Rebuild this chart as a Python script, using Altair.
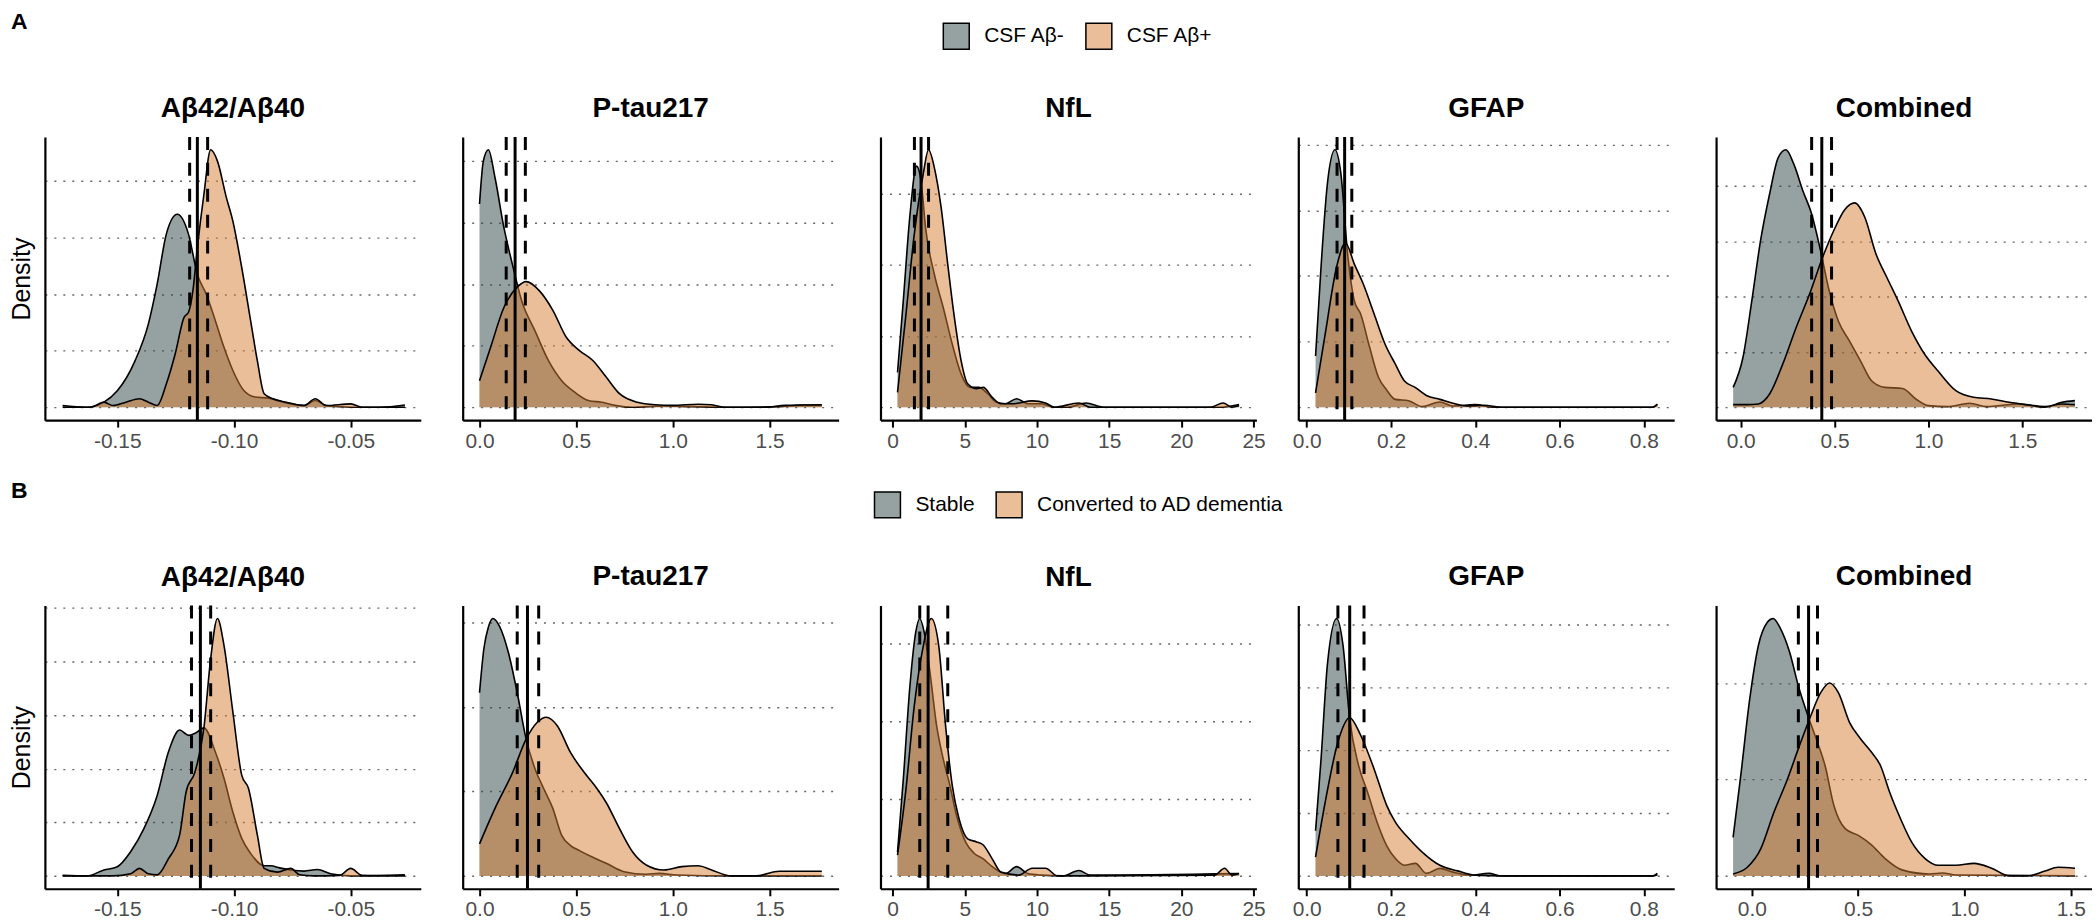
import altair as alt
import pandas as pd

FONT = "Liberation Sans"
GRAY = "#2D4343"
ORANGE = "#D57D31"
GRAY_KEY = "#96A1A1"
ORANGE_KEY = "#EABE98"

TITLES = ["Aβ42/Aβ40", "P-tau217", "NfL", "GFAP", "Combined"]
LEGEND_A = ["CSF Aβ-", "CSF Aβ+"]
LEGEND_B = ["Stable", "Converted to AD dementia"]
ROW_LABELS = ["A", "B"]

X_DOMAINS_A = [[-0.181, -0.020], [-0.087, 1.857], [-0.84, 25.2], [-0.02, 0.872], [-0.131, 1.871]]
X_DOMAINS_B = [[-0.181, -0.020], [-0.087, 1.857], [-0.84, 25.2], [-0.02, 0.872], [-0.168, 1.60]]
X_TICKS = [[-0.15, -0.10, -0.05], [0, 0.5, 1.0, 1.5], [0, 5, 10, 15, 20, 25],
           [0, 0.2, 0.4, 0.6, 0.8], [0, 0.5, 1.0, 1.5]]
X_FORMATS = [".2f", ".1f", "d", ".1f", ".1f"]
Y_BREAKS_A = [[0, 10, 20, 30, 40], [0, 1, 2, 3, 4], [0, 0.1, 0.2, 0.3], [0, 5, 10, 15, 20], [0, 0.5, 1, 1.5, 2]]
Y_BREAKS_B = [[0, 10, 20, 30, 40, 50], [0, 1, 2, 3], [0, 0.1, 0.2, 0.3], [0, 5, 10, 15, 20], [0, 1, 2]]

# vertical lines: (lower CI, cut-off, upper CI)
LINES_A = [(-0.119, -0.1157, -0.1113), (0.138, 0.184, 0.237), (1.51, 1.97, 2.49),
           (0.072, 0.090, 0.107), (0.378, 0.432, 0.484)]
LINES_B = [(-0.1182, -0.1144, -0.110), (0.195, 0.248, 0.306), (1.88, 2.46, 3.82),
           (0.074, 0.102, 0.136), (0.219, 0.267, 0.309)]

# ---------------- Row A density curves (x, density) ----------------
A_AB_NEG = [(-0.1734, 0.3), (-0.1633, 0.0), (-0.1557, 0.9), (-0.150, 2.9), (-0.1424, 8.2),
            (-0.1367, 14.7), (-0.1329, 21.8), (-0.129, 30.6), (-0.1243, 34.1), (-0.1195, 30.6),
            (-0.1157, 23.5), (-0.1119, 20.0), (-0.108, 15.3), (-0.1043, 10.6), (-0.1005, 6.5),
            (-0.0957, 2.9), (-0.091, 1.8), (-0.0852, 1.6), (-0.0814, 1.2), (-0.0757, 0.6),
            (-0.070, 0.3), (-0.0652, 1.2), (-0.0605, 0.3), (-0.0548, 0.1), (-0.050, 0.0),
            (-0.0376, 0.0), (-0.0268, 0.4)]
A_AB_POS = [(-0.1734, 0.0), (-0.1614, 0.0), (-0.1557, 0.9), (-0.1519, 0.3), (-0.1462, 0.9),
            (-0.1405, 1.5), (-0.1367, 0.9), (-0.1329, 0.3), (-0.129, 4.1), (-0.1252, 9.4),
            (-0.1214, 15.9), (-0.1195, 16.8), (-0.1176, 20.6), (-0.1157, 28.2), (-0.1129, 37.6),
            (-0.110, 45.5), (-0.1071, 43.5), (-0.1033, 37.1), (-0.1005, 32.9), (-0.0967, 24.7),
            (-0.0929, 15.3), (-0.090, 8.2), (-0.0871, 2.4), (-0.0833, 1.5), (-0.0776, 0.9),
            (-0.070, 0.3), (-0.0652, 1.5), (-0.0605, 0.3), (-0.050, 0.6), (-0.0452, 0.0),
            (-0.0268, 0.0)]
A_PT_NEG = [(0.0, 3.3), (0.02, 4.0), (0.046, 4.18), (0.08, 3.73), (0.126, 2.92), (0.17, 2.32),
            (0.218, 1.73), (0.287, 1.24), (0.356, 0.76), (0.425, 0.43), (0.494, 0.24),
            (0.563, 0.11), (0.632, 0.08), (0.70, 0.03), (0.79, 0.0), (0.95, 0.02), (1.1, 0.01),
            (1.3, 0.0), (1.55, 0.01), (1.65, 0.03), (1.77, 0.03)]
A_PT_POS = [(0.0, 0.43), (0.057, 0.97), (0.126, 1.62), (0.195, 1.95), (0.241, 2.04), (0.31, 1.89),
            (0.38, 1.57), (0.448, 1.14), (0.517, 0.92), (0.586, 0.76), (0.655, 0.49),
            (0.724, 0.22), (0.816, 0.08), (0.908, 0.04), (1.0, 0.03), (1.13, 0.05), (1.20, 0.04),
            (1.27, 0.0), (1.48, 0.0), (1.58, 0.03), (1.77, 0.04)]
A_NF_NEG = [(0.34, 0.049), (0.74, 0.15), (1.2, 0.27), (1.66, 0.339), (1.97, 0.318), (2.28, 0.253),
            (2.89, 0.187), (3.51, 0.14), (4.13, 0.089), (4.74, 0.047), (5.36, 0.028),
            (5.97, 0.028), (6.59, 0.019), (7.2, 0.007), (7.82, 0.005), (8.59, 0.012),
            (9.36, 0.005), (10.3, 0.005), (11.2, 0.0), (12.1, 0.0), (13.4, 0.006), (14.6, 0.0),
            (22.6, 0.0), (24.0, 0.004)]
A_NF_POS = [(0.34, 0.021), (0.9, 0.126), (1.5, 0.243), (2.12, 0.328), (2.49, 0.362), (2.89, 0.337),
            (3.36, 0.281), (3.82, 0.201), (4.28, 0.126), (4.74, 0.066), (5.2, 0.033),
            (5.82, 0.026), (6.28, 0.028), (6.9, 0.014), (7.5, 0.005), (8.4, 0.005),
            (9.67, 0.009), (10.6, 0.006), (11.2, 0.0), (12.9, 0.006), (13.7, 0.0), (22.0, 0.0),
            (22.9, 0.006), (23.5, 0.0), (24.0, 0.002)]
A_GF_NEG = [(0.021, 3.9), (0.034, 10.7), (0.049, 17.0), (0.067, 19.6), (0.081, 17.8),
            (0.097, 11.7), (0.113, 8.1), (0.128, 7.1), (0.149, 4.6), (0.17, 2.3), (0.19, 1.3),
            (0.21, 0.6), (0.242, 0.5), (0.274, 0.05), (0.316, 0.4), (0.347, 0.1), (0.40, 0.2),
            (0.442, 0.0), (0.821, 0.0), (0.832, 0.2)]
A_GF_POS = [(0.021, 1.1), (0.044, 5.6), (0.071, 10.7), (0.092, 12.5), (0.113, 10.9),
            (0.134, 9.4), (0.16, 7.1), (0.186, 4.8), (0.21, 3.3), (0.232, 2.0), (0.258, 1.5),
            (0.284, 0.9), (0.316, 0.6), (0.347, 0.3), (0.379, 0.1), (0.421, 0.15), (0.463, 0.0),
            (0.821, 0.0), (0.832, 0.25)]
A_CO_NEG = [(-0.04, 0.18), (0.012, 0.45), (0.059, 0.96), (0.106, 1.51), (0.154, 1.93),
            (0.20, 2.26), (0.241, 2.33), (0.283, 2.2), (0.331, 1.96), (0.378, 1.75),
            (0.425, 1.42), (0.472, 1.05), (0.52, 0.78), (0.579, 0.6), (0.638, 0.42),
            (0.697, 0.24), (0.768, 0.18), (0.862, 0.17), (0.933, 0.075), (1.0, 0.015),
            (1.1, 0.006), (1.22, 0.036), (1.31, 0.006), (1.48, 0.03), (1.62, 0.0), (1.71, 0.045),
            (1.78, 0.06)]
A_CO_POS = [(-0.04, 0.024), (0.035, 0.024), (0.094, 0.03), (0.154, 0.12), (0.224, 0.39),
            (0.295, 0.72), (0.366, 1.02), (0.437, 1.36), (0.496, 1.6), (0.555, 1.79),
            (0.607, 1.85), (0.661, 1.72), (0.72, 1.39), (0.78, 1.17), (0.839, 0.96),
            (0.91, 0.69), (0.98, 0.48), (1.05, 0.33), (1.146, 0.15), (1.24, 0.09),
            (1.335, 0.075), (1.43, 0.045), (1.52, 0.024), (1.62, 0.006), (1.71, 0.03),
            (1.78, 0.024)]

# ---------------- Row B density curves (x, density) ----------------
B_AB_NEG = [(-0.1734, 0.1), (-0.163, 0.0), (-0.1557, 1.1), (-0.150, 1.7), (-0.1443, 4.5),
            (-0.1386, 8.8), (-0.1329, 15.0), (-0.1281, 23.1), (-0.1233, 27.2), (-0.1195, 26.2),
            (-0.1167, 26.6), (-0.1129, 27.6), (-0.108, 23.1), (-0.1043, 18.2), (-0.1005, 11.9),
            (-0.0967, 7.0), (-0.0929, 4.2), (-0.0871, 1.9), (-0.0843, 1.9), (-0.0805, 1.5),
            (-0.0757, 1.1), (-0.070, 0.9), (-0.0643, 1.2), (-0.0586, 0.4), (-0.050, 0.0),
            (-0.0268, 0.2)]
B_AB_POS = [(-0.1734, 0.0), (-0.1519, 0.0), (-0.1443, 0.4), (-0.1405, 1.4), (-0.1367, 0.4),
            (-0.1329, 0.2), (-0.1281, 3.2), (-0.1233, 7.6), (-0.1205, 15.7), (-0.1167, 19.4),
            (-0.1129, 27.6), (-0.110, 40.5), (-0.1071, 48.0), (-0.1043, 43.0), (-0.1005, 30.6),
            (-0.0967, 18.8), (-0.0938, 16.3), (-0.090, 7.6), (-0.0871, 1.4), (-0.0814, 0.7),
            (-0.0757, 1.4), (-0.0719, 0.2), (-0.0662, 0.0), (-0.0548, 0.1), (-0.050, 1.4),
            (-0.0452, 0.1), (-0.0268, 0.0)]
B_PT_NEG = [(0.0, 2.17), (0.023, 2.7), (0.046, 2.95), (0.069, 3.05), (0.103, 2.96), (0.149, 2.65),
            (0.195, 2.17), (0.241, 1.62), (0.287, 1.27), (0.333, 1.03), (0.379, 0.8),
            (0.425, 0.48), (0.471, 0.36), (0.517, 0.3), (0.586, 0.22), (0.655, 0.15),
            (0.747, 0.05), (0.862, 0.02), (0.93, 0.03), (1.02, 0.01), (1.3, 0.0), (1.77, 0.0)]
B_PT_POS = [(0.0, 0.38), (0.08, 0.8), (0.172, 1.23), (0.241, 1.62), (0.299, 1.82), (0.345, 1.88),
            (0.402, 1.78), (0.471, 1.46), (0.54, 1.23), (0.609, 1.03), (0.655, 0.87),
            (0.724, 0.56), (0.793, 0.28), (0.862, 0.13), (0.954, 0.07), (1.046, 0.11),
            (1.13, 0.12), (1.20, 0.07), (1.30, 0.0), (1.43, 0.0), (1.55, 0.055), (1.77, 0.055)]
B_NF_NEG = [(0.34, 0.031), (0.74, 0.125), (1.2, 0.246), (1.6, 0.315), (1.88, 0.333), (2.19, 0.315),
            (2.59, 0.263), (3.05, 0.194), (3.51, 0.151), (3.97, 0.117), (4.43, 0.078),
            (5.05, 0.044), (5.66, 0.029), (6.28, 0.022), (6.9, 0.012), (7.82, 0.003),
            (8.59, 0.012), (9.36, 0.003), (10.3, 0.001), (11.8, 0.0), (12.9, 0.007),
            (13.7, 0.001), (24.0, 0.003)]
B_NF_POS = [(0.34, 0.027), (0.9, 0.108), (1.5, 0.22), (2.12, 0.297), (2.68, 0.333), (3.2, 0.297),
            (3.67, 0.194), (4.13, 0.117), (4.6, 0.074), (5.2, 0.048), (5.82, 0.044),
            (6.28, 0.04), (6.9, 0.022), (7.5, 0.005), (8.74, 0.001), (9.67, 0.01), (10.6, 0.01),
            (11.4, 0.0), (22.3, 0.001), (23.0, 0.01), (23.5, 0.001), (24.0, 0.003)]
B_GF_NEG = [(0.021, 3.6), (0.034, 9.3), (0.049, 16.8), (0.071, 20.5), (0.086, 18.4),
            (0.102, 12.5), (0.123, 8.8), (0.144, 6.7), (0.17, 4.0), (0.19, 2.4), (0.21, 1.4),
            (0.232, 0.85), (0.258, 1.0), (0.284, 0.2), (0.316, 0.6), (0.347, 0.3),
            (0.389, 0.05), (0.432, 0.2), (0.463, 0.0), (0.821, 0.0), (0.832, 0.2)]
B_GF_POS = [(0.021, 1.5), (0.044, 5.9), (0.076, 10.9), (0.102, 12.6), (0.128, 11.2), (0.16, 8.5),
            (0.19, 5.6), (0.21, 4.3), (0.242, 3.0), (0.274, 1.9), (0.316, 0.85), (0.358, 0.4),
            (0.40, 0.05), (0.463, 0.0), (0.821, 0.0), (0.832, 0.1)]
B_CO_NEG = [(-0.088, 0.4), (-0.052, 1.04), (-0.01, 1.83), (0.031, 2.39), (0.073, 2.63),
            (0.10, 2.67), (0.136, 2.56), (0.178, 2.32), (0.219, 1.97), (0.261, 1.68),
            (0.303, 1.42), (0.345, 1.14), (0.386, 0.73), (0.439, 0.49), (0.501, 0.42),
            (0.564, 0.32), (0.627, 0.18), (0.71, 0.06), (0.836, 0.02), (0.898, 0.03),
            (0.96, 0.01), (1.52, 0.0)]
B_CO_POS = [(-0.088, 0.02), (-0.021, 0.09), (0.042, 0.28), (0.104, 0.66), (0.167, 1.0),
            (0.219, 1.32), (0.272, 1.63), (0.324, 1.9), (0.366, 2.0), (0.407, 1.9), (0.46, 1.59),
            (0.512, 1.42), (0.564, 1.28), (0.606, 1.14), (0.648, 0.87), (0.70, 0.59),
            (0.752, 0.35), (0.815, 0.18), (0.877, 0.11), (0.96, 0.11), (1.045, 0.13),
            (1.128, 0.08), (1.21, 0.0), (1.295, 0.0), (1.379, 0.05), (1.44, 0.09), (1.52, 0.08)]

CURVES_A = [(A_AB_NEG, A_AB_POS), (A_PT_NEG, A_PT_POS), (A_NF_NEG, A_NF_POS),
            (A_GF_NEG, A_GF_POS), (A_CO_NEG, A_CO_POS)]
CURVES_B = [(B_AB_NEG, B_AB_POS), (B_PT_NEG, B_PT_POS), (B_NF_NEG, B_NF_POS),
            (B_GF_NEG, B_GF_POS), (B_CO_NEG, B_CO_POS)]

PANEL_W = 377
PANEL_H = 284
LABEL_TOP = -126
LEGEND_TOP = -115


def panel(curves, lines, xdom, xticks, xfmt, ybreaks, title, row_label=None,
          legend_labels=None, legend_field="g", legend_x=0):
    neg, pos = curves
    dneg = pd.DataFrame(neg, columns=["x", "y"])
    dpos = pd.DataFrame(pos, columns=["x", "y"])
    ymax = max(dneg["y"].max(), dpos["y"].max())
    xs = alt.Scale(domain=xdom, nice=False, zero=False)
    ys = alt.Scale(domain=[-0.05 * ymax, 1.05 * ymax], nice=False, zero=False)
    xax = alt.Axis(values=xticks, format=xfmt, labelExpr="replace(datum.label, '−', '-')",
                   grid=False, domainColor="black", domainWidth=2.2, tickColor="black",
                   tickWidth=2, tickSize=7, labelFontSize=21, labelColor="#4D4D4D",
                   labelFont=FONT, labelPadding=3, labelFlush=False, labelOverlap=False,
                   title=None)
    yargs = dict(values=ybreaks, labels=False, ticks=False, grid=True, gridDash=[2, 7],
                 gridColor="#666666", gridWidth=1.4, domainColor="black", domainWidth=2.2)
    if row_label:
        yax = alt.Axis(title="Density", titleFontSize=25, titleFontWeight="normal",
                       titleColor="black", titleFont=FONT, titlePadding=10, **yargs)
    else:
        yax = alt.Axis(title=None, **yargs)
    X = alt.X("x:Q", scale=xs, axis=xax)
    Y = alt.Y("y:Q", scale=ys, axis=yax)

    a_neg = alt.Chart(dneg).mark_area(color=GRAY, fillOpacity=0.5, interpolate="monotone").encode(
        x=X, y=Y, y2=alt.datum(0))
    l_neg = alt.Chart(dneg).mark_line(color="black", strokeWidth=1.6, interpolate="monotone").encode(
        x=X, y=Y)
    a_pos = alt.Chart(dpos).mark_area(color=ORANGE, fillOpacity=0.5, interpolate="monotone").encode(
        x=X, y=Y, y2=alt.datum(0))
    l_pos = alt.Chart(dpos).mark_line(color="black", strokeWidth=1.6, interpolate="monotone").encode(
        x=X, y=Y)
    ci = pd.DataFrame({"x": [lines[0], lines[2]]})
    cut = pd.DataFrame({"x": [lines[1]]})
    r_ci = alt.Chart(ci).mark_rule(color="black", strokeWidth=3, strokeDash=[13, 13]).encode(x=X)
    r_cut = alt.Chart(cut).mark_rule(color="black", strokeWidth=3).encode(x=X)
    layers = [a_neg, l_neg, a_pos, l_pos, r_ci, r_cut]
    title_dy = 0
    if row_label:
        lab = alt.Chart(pd.DataFrame({"t": [row_label]})).mark_text(
            align="left", baseline="top", fontSize=23, fontWeight="bold", font=FONT,
            color="black").encode(x=alt.value(-34), y=alt.value(LABEL_TOP), text="t:N")
        layers.append(lab)
        title_dy = -LABEL_TOP - 1
    if legend_labels:
        leg = alt.Chart(pd.DataFrame({legend_field: legend_labels})).transform_filter("false").mark_square(
            stroke="black", strokeWidth=1.5, opacity=1).encode(
            color=alt.Color(f"{legend_field}:N",
                            scale=alt.Scale(domain=legend_labels, range=[GRAY_KEY, ORANGE_KEY]),
                            legend=alt.Legend(orient="none", legendX=legend_x, legendY=LEGEND_TOP,
                                              direction="horizontal", title=None,
                                              symbolType="square", symbolSize=676,
                                              symbolStrokeColor="black", symbolStrokeWidth=1.5,
                                              symbolOpacity=1, labelFontSize=21, labelFont=FONT,
                                              labelColor="black", labelOffset=14,
                                              columnPadding=18, padding=0, labelLimit=500)))
        layers.append(leg)
        title_dy = -LEGEND_TOP - 1
    tparams = dict(fontSize=28, fontWeight="bold", font=FONT, color="black",
                   anchor="middle", frame="group", offset=13)
    if title_dy:
        tparams["dy"] = title_dy
    return alt.layer(*layers).properties(
        width=PANEL_W, height=PANEL_H, title=alt.TitleParams(title, **tparams))


panels = []
for r, (curves, lines, xdoms, ybreaks, leg, field, lx) in enumerate([
        (CURVES_A, LINES_A, X_DOMAINS_A, Y_BREAKS_A, LEGEND_A, "groupA", 62),
        (CURVES_B, LINES_B, X_DOMAINS_B, Y_BREAKS_B, LEGEND_B, "groupB", -7)]):
    for i in range(5):
        panels.append(panel(curves[i], lines[i], xdoms[i], X_TICKS[i], X_FORMATS[i], ybreaks[i],
                            TITLES[i], ROW_LABELS[r] if i == 0 else None,
                            leg if i == 2 else None, field, lx))

chart = alt.concat(*panels, columns=5, spacing={"row": 186, "column": 42}, bounds="flush").resolve_scale(
    color="independent").resolve_legend(color="independent").properties(
    padding={"left": 2, "top": 2, "right": 0, "bottom": 0}
).configure(font=FONT).configure_view(stroke=None)

chart.save("out.html", embed_options={"renderer": "svg", "actions": False})
